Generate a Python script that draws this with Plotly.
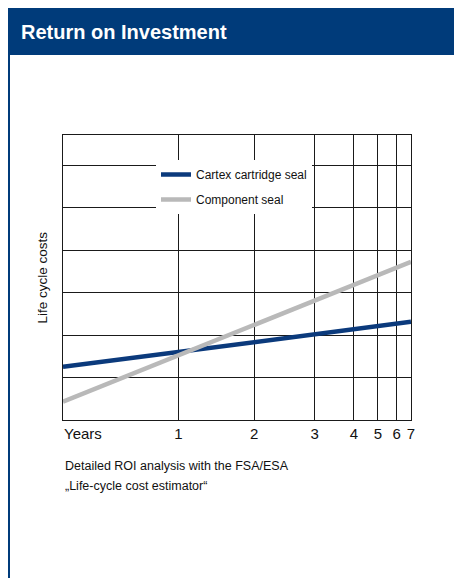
import plotly.graph_objects as go

# ---- data ----
series_names = ["Cartex cartridge seal", "Component seal"]
series_colors = ["#0b3a7c", "#b9b9b9"]
# x-axis positions (fraction of axis) where the start and the end of the lines lie
line_x = [0.0, 1.0]
cartex_costs = [1.25, 2.31]
component_costs = [0.43, 3.72]
# year tick labels and their (non-linear) positions along the axis
year_labels = ["1", "2", "3", "4", "5", "6", "7"]
year_pos = [0.332, 0.549, 0.723, 0.836, 0.905, 0.959, 1.0]
cost_grid = [0, 1, 2, 3, 4, 5, 6]

title_text = "Return on Investment"
y_title = "Life cycle costs"
x_start_label = "Years"
caption_lines = ["Detailed ROI analysis with the FSA/ESA",
                 "\u201eLife-cycle cost estimator\u201c"]

FONT = "Liberation Sans, Arial, sans-serif"
HEADER_BLUE = "#003b7a"
INK = "#111111"

OFF = 8  # page body margin
PAGE_W, PAGE_H = 462, 578
W, H = PAGE_W - OFF, PAGE_H - OFF
# plot area in page pixels: x 63..411, y 135..420
L, R, T, B = 63 - OFF, PAGE_W - 411, 135 - OFF, PAGE_H - 420
pw, ph = W - L - R, H - T - B


def px_x(px):  # page pixel -> paper x
    return (px - OFF - L) / pw


def px_y(py):  # page pixel -> paper y
    return (H - B - (py - OFF)) / ph


fig = go.Figure()
for name, vals, col, grp in [(series_names[0], cartex_costs, series_colors[0], "a"),
                             (series_names[1], component_costs, series_colors[1], "b")]:
    fig.add_trace(go.Scatter(x=line_x, y=vals, mode="lines", name=name,
                             legendgroup=grp,
                             line=dict(color=col, width=4.5), hoverinfo="skip"))

fig.update_layout(
    width=W, height=H,
    margin=dict(l=L, r=R, t=T, b=B, pad=0),
    paper_bgcolor="white", plot_bgcolor="white",
    font=dict(family=FONT, color=INK),
    showlegend=True,
    legend=dict(x=px_x(156), y=px_y(160), xanchor="left", yanchor="top",
                bgcolor="white", borderwidth=0, font=dict(size=12, family=FONT, color=INK),
                tracegroupgap=6, traceorder="grouped"),
    xaxis=dict(range=[0, 1], tickmode="array", tickvals=year_pos, ticktext=year_labels,
               showgrid=True, gridcolor="#1a1a1a", gridwidth=1, zeroline=False,
               showline=True, mirror=True, linecolor="#1a1a1a", linewidth=1,
               ticks="", tickfont=dict(size=15, family=FONT, color=INK), fixedrange=True),
    yaxis=dict(range=[0, 6.706], tickmode="array", tickvals=cost_grid, showticklabels=False,
               showgrid=True, gridcolor="#1a1a1a", gridwidth=1, zeroline=False,
               showline=True, mirror=True, linecolor="#1a1a1a", linewidth=1,
               ticks="", fixedrange=True),
)

# frame decoration: header bar and side borders
fig.add_shape(type="rect", xref="paper", yref="paper",
              x0=px_x(0), x1=px_x(470), y0=px_y(55), y1=px_y(0),
              fillcolor=HEADER_BLUE, line=dict(width=0), layer="above")
fig.add_shape(type="line", xref="paper", yref="paper",
              x0=px_x(8.5), x1=px_x(8.5), y0=px_y(55), y1=px_y(590),
              line=dict(color=HEADER_BLUE, width=3))
fig.add_shape(type="line", xref="paper", yref="paper",
              x0=px_x(461.5), x1=px_x(461.5), y0=px_y(55), y1=px_y(590),
              line=dict(color=HEADER_BLUE, width=3))

fig.add_annotation(text="<b>" + title_text + "</b>", xref="paper", yref="paper",
                   x=px_x(19), y=px_y(31.5), xanchor="left", yanchor="middle",
                   showarrow=False, font=dict(size=20, color="white", family=FONT))

fig.add_annotation(text=y_title, xref="paper", yref="paper", textangle=-90,
                   x=px_x(42), y=0.5, xanchor="center", yanchor="middle",
                   showarrow=False, font=dict(size=13.5, family=FONT, color=INK))

fig.add_annotation(text=x_start_label, xref="x", yref="paper",
                   x=line_x[0], y=px_y(433), xanchor="left", yanchor="middle",
                   xshift=-1, showarrow=False, font=dict(size=15, family=FONT, color=INK))

for i, line in enumerate(caption_lines):
    fig.add_annotation(text=line, xref="paper", yref="paper",
                       x=0, y=px_y(466 + 20 * i), xanchor="left", yanchor="middle",
                       showarrow=False, font=dict(size=12.5, family=FONT, color=INK))

fig.write_html("out.html")
